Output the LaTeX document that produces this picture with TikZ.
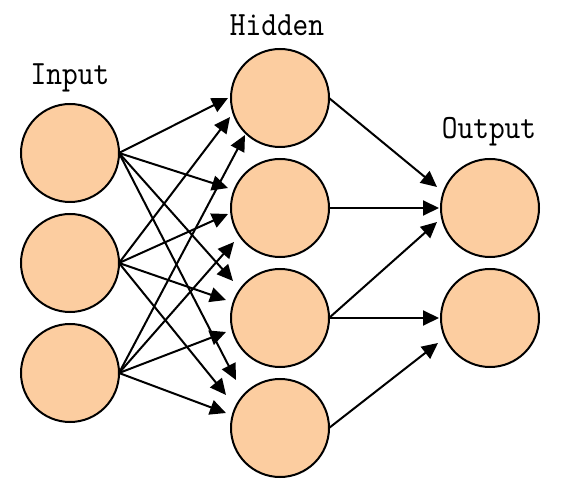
\documentclass[tikz,border=0pt]{standalone}
\usepackage{fontspec}
\newfontfamily\labfont[FakeStretch=0.88]{lmmono10-regular.otf}
\usetikzlibrary{arrows.meta,calc}
\definecolor{neuron}{RGB}{252,205,160}
\begin{document}
\begin{tikzpicture}[x=1pt,y=-1pt,
  neur/.style={circle,draw=black,fill=neuron,line width=2pt,minimum size=98pt,inner sep=0pt,outer sep=0pt},
  arr/.style={line width=2pt,-{Triangle[length=16pt,width=15pt]}},
  lab/.style={anchor=base,inner sep=0pt,font=\labfont\fontsize{34}{34}\selectfont}]
\useasboundingbox (0,0) rectangle (565,494);
\node[neur] (i1) at (70,153) {};
\node[neur] (i2) at (70,263) {};
\node[neur] (i3) at (70,373) {};
\node[neur] (h1) at (280,98) {};
\node[neur] (h2) at (280,208) {};
\node[neur] (h3) at (280,318) {};
\node[neur] (h4) at (280,428) {};
\node[neur] (o1) at (490,208) {};
\node[neur] (o2) at (490,318) {};
\node[lab] (tin) at (70,85) {Input};
\node[lab] (thid) at (277,36) {Hidden};
\node[lab] (tout) at (489,139) {Output};
% input -> hidden
\draw[arr] (i1.east) -- ($(h1)+(-52,0)$);
\draw[arr] (i2.east) -- ($(h1)+(-50,19)$);
\draw[arr] (i3.east) -- ($(h1)+(-35,37)$);
\draw[arr] (i1.east) -- ($(h2)+(-52,-20)$);
\draw[arr] (i2.east) -- ($(h2)+(-52,6)$);
\draw[arr] (i3.east) -- ($(h2)+(-46,34)$);
\draw[arr] (i1.east) -- ($(h3)+(-47,-37)$);
\draw[arr] (i2.east) -- ($(h3)+(-54,-18)$);
\draw[arr] (i3.east) -- ($(h3)+(-54,14)$);
\draw[arr] (i1.east) -- ($(h4)+(-44,-48)$);
\draw[arr] (i2.east) -- ($(h4)+(-54,-33)$);
\draw[arr] (i3.east) -- ($(h4)+(-54,-15)$);
% hidden -> output
\draw[arr] (h1.east) -- ($(o1)+(-53,-21)$);
\draw[arr] (h2.east) -- ($(o1)+(-51,0)$);
\draw[arr] (h3.east) -- ($(o1)+(-53,14)$);
\draw[arr] (h3.east) -- ($(o2)+(-51,0)$);
\draw[arr] (h4.east) -- ($(o2)+(-52,25)$);
\end{tikzpicture}
\end{document}
